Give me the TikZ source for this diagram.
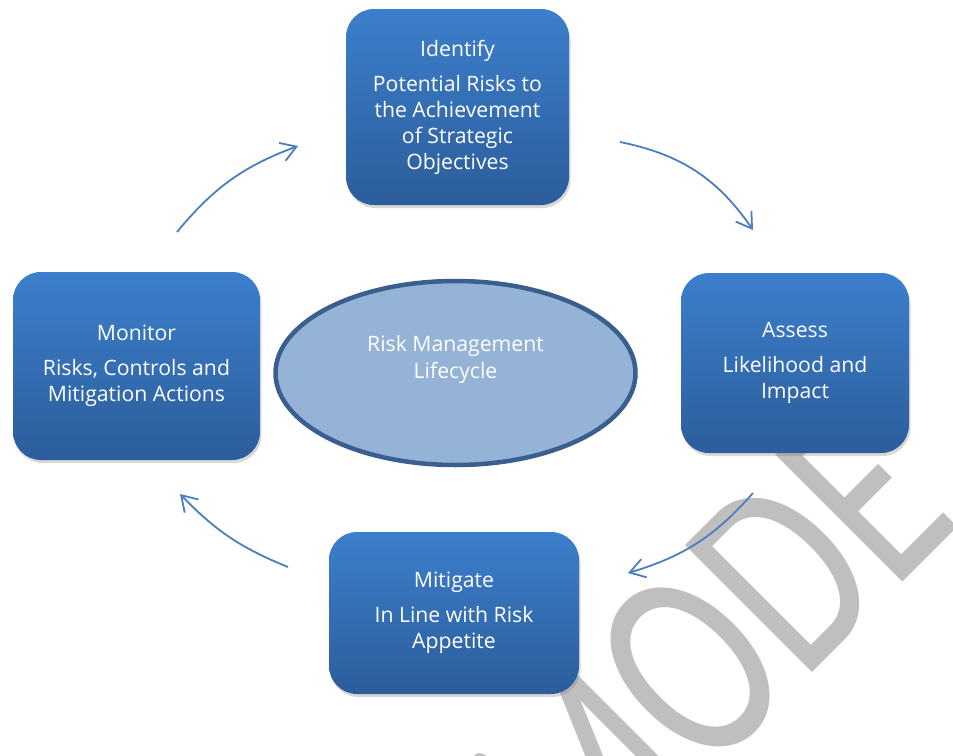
\documentclass[tikz,border=0pt]{standalone}
\usepackage{fontspec}
\setmainfont{Open Sans}
\newfontfamily\wmfont{Carlito}
\usepackage{tikz}
\usetikzlibrary{shapes.geometric, arrows.meta, shadows, positioning}

\definecolor{boxtop}{HTML}{3C7FCC}
\definecolor{boxbot}{HTML}{2C5D9B}
\definecolor{arrowblue}{HTML}{4A7EC1}
\definecolor{ellfill}{HTML}{95B3D7}
\definecolor{ellborder}{HTML}{3A5F8E}
\definecolor{wmgray}{HTML}{BFBFBF}

\begin{document}
\begin{tikzpicture}[x=1pt, y=-1pt, semithick,
    stagebox/.style={rectangle, rounded corners=28pt, draw=none, inner sep=0pt,
        top color=boxtop, bottom color=boxbot, text=white, align=center,
        font=\fontsize{21.2}{26}\selectfont,
        drop shadow={opacity=0.3, shadow xshift=1.5pt, shadow yshift=-3pt}},
    cyclearrow/.style={draw=arrowblue, line width=1.8pt,
        -{Straight Barb[length=15pt, width=19pt]}}]
        \useasboundingbox (0,0) rectangle (953,755);
        \fill[white] (0,0) rectangle (953,755);
        % watermark behind everything
        \begin{scope}
            \clip (0,0) rectangle (953,755);
            \node[rotate=45, anchor=base west, inner sep=0pt, text=wmgray,
                font=\wmfont\fontsize{280}{300}\selectfont]
                (watermark) at (580,905) {\scalebox{0.74}[1]{MODE}};
        \end{scope}
        % the four stages
        \node[stagebox, minimum width=223pt, minimum height=196pt] (identify) at (457.5,107)
            {Identify\\[9pt]Potential Risks to\\the Achievement\\of Strategic\\Objectives};
        \node[stagebox, minimum width=228pt, minimum height=180pt] (assess) at (795,363)
            {Assess\\[9pt]Likelihood and\\Impact};
        \node[stagebox, minimum width=250pt, minimum height=162pt] (mitigate) at (454,613)
            {Mitigate\\[9pt]In Line with Risk\\Appetite};
        \node[stagebox, minimum width=247pt, minimum height=188pt] (monitor) at (136.5,366)
            {Monitor\\[9pt]Risks, Controls and\\Mitigation Actions};
        % centre
        \node[ellipse, draw=ellborder, line width=4.5pt, fill=ellfill,
            minimum width=360pt, minimum height=184pt] (core) at (455.5,373) {};
        \node[align=center, text=white, font=\fontsize{21.2}{27}\selectfont]
            (coretext) at ([yshift=14pt]core.center) {Risk Management\\Lifecycle};
        % arrow ends
        \coordinate (a1s) at (177,232);
        \coordinate (a1e) at (298,146);
        \coordinate (a2s) at (620,142);
        \coordinate (a2e) at (753,230);
        \coordinate (a3s) at (753,493);
        \coordinate (a3e) at (628,573);
        \coordinate (a4s) at (288,567);
        \coordinate (a4e) at (180,494);
        \draw[cyclearrow] (a1s) to[bend left=15] (a1e);
        \draw[cyclearrow] (a2s) to[bend left=22] (a2e);
        \draw[cyclearrow] (a3s) to[bend left=16] (a3e);
        \draw[cyclearrow] (a4s) to[bend left=12] (a4e);
\end{tikzpicture}
\end{document}
